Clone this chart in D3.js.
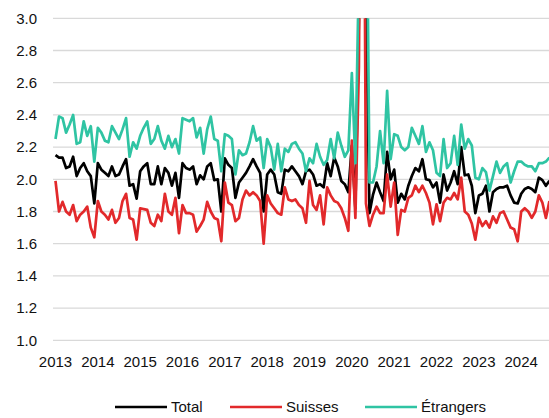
<!DOCTYPE html>
<html lang="fr">
<head>
<meta charset="UTF-8">
<title>Taux mensuel</title>
<script src="https://d3js.org/d3.v7.min.js"></script>
<style>
  body { margin: 0; background: #fff; }
  svg text { font-family: "Liberation Sans", Arial, sans-serif; font-size: 15px; fill: #111; }
</style>
</head>
<body>
<div id="chart"></div>
<script>
// monthly values, Jan 2013 .. Sep 2024
const years = ["2013","2014","2015","2016","2017","2018","2019","2020","2021","2022","2023","2024"];
const yTicks = [1.0, 1.2, 1.4, 1.6, 1.8, 2.0, 2.2, 2.4, 2.6, 2.8, 3.0];

const total = [
  2.15,2.135,2.135,2.07,2.08,2.14,2.02,2.07,2.10,2.05,2.02,1.85,
  2.10,2.06,2.04,2.02,2.08,2.02,2.03,2.08,2.125,1.96,1.97,1.88,
  2.05,2.08,2.10,1.97,1.97,2.08,1.97,2.07,2.04,1.96,2.04,1.885,
  2.10,2.07,2.06,2.08,1.97,2.025,2.00,2.08,2.10,1.995,2.00,1.80,
  2.13,2.09,2.07,1.885,1.98,2.01,2.04,2.08,2.125,2.08,2.04,1.80,
  2.03,2.06,2.03,1.92,1.91,2.06,2.05,2.08,2.05,2.02,1.97,2.05,
  2.06,2.03,1.96,1.97,1.95,2.10,2.02,2.135,2.08,1.99,1.97,1.92,
  2.21,1.82,3.0,5.6,3.1,1.79,1.905,1.98,1.92,1.865,2.17,2.00,
  2.06,1.855,1.91,1.875,1.96,2.02,2.07,2.05,2.125,2.00,1.995,1.95,
  1.98,1.855,2.03,1.93,1.98,2.05,1.97,2.20,2.025,2.03,1.96,1.79,
  1.90,1.91,1.96,1.80,1.92,1.94,1.95,1.95,1.96,1.90,1.855,1.85,
  1.91,1.94,1.95,1.94,1.92,2.01,1.995,1.96,1.99
];

const suisses = [
  1.99,1.80,1.86,1.80,1.78,1.84,1.74,1.78,1.80,1.83,1.70,1.64,
  1.865,1.80,1.78,1.75,1.81,1.73,1.76,1.865,1.91,1.76,1.75,1.625,
  1.82,1.815,1.81,1.73,1.71,1.78,1.74,1.91,1.80,1.78,1.885,1.665,
  1.84,1.79,1.79,1.78,1.675,1.71,1.75,1.86,1.80,1.76,1.75,1.615,
  1.98,1.855,1.84,1.74,1.76,1.875,1.93,1.90,1.92,1.90,1.865,1.60,
  1.90,1.85,1.82,1.79,1.78,1.95,1.875,1.865,1.875,1.84,1.82,1.73,
  1.99,1.84,1.81,1.90,1.72,1.95,1.90,1.865,1.855,1.82,1.76,1.68,
  2.24,1.76,2.7,6.0,1.85,1.71,1.78,1.83,1.79,1.79,2.03,1.83,
  1.98,1.655,1.81,1.80,1.885,1.90,1.96,1.92,1.96,1.915,1.855,1.72,
  1.845,1.74,1.855,1.885,1.875,1.915,1.875,2.01,1.80,1.78,1.725,1.625,
  1.76,1.71,1.74,1.70,1.77,1.73,1.79,1.80,1.75,1.70,1.69,1.615,
  1.80,1.82,1.80,1.76,1.80,1.90,1.855,1.76,1.865
];

const etrangers = [
  2.25,2.39,2.38,2.29,2.34,2.40,2.22,2.23,2.36,2.27,2.33,2.11,
  2.32,2.29,2.24,2.23,2.33,2.29,2.25,2.31,2.38,2.14,2.23,2.19,
  2.27,2.32,2.36,2.22,2.25,2.33,2.24,2.19,2.27,2.20,2.25,2.16,
  2.38,2.37,2.36,2.38,2.26,2.32,2.16,2.31,2.39,2.25,2.24,2.05,
  2.28,2.27,2.25,2.03,2.18,2.15,2.16,2.23,2.33,2.24,2.26,2.07,
  2.25,2.20,2.06,2.22,2.05,2.19,2.17,2.22,2.23,2.19,2.16,2.05,
  2.13,2.10,2.22,2.14,2.09,2.12,2.25,2.13,2.29,2.21,2.14,2.18,
  2.66,2.10,3.3,5.0,4.35,1.98,1.98,2.08,2.30,2.10,2.55,2.125,
  2.28,2.27,2.20,2.18,2.20,2.32,2.27,2.22,2.33,2.17,2.23,2.18,
  2.04,2.02,2.25,2.07,2.10,2.27,2.09,2.34,2.19,2.25,2.21,2.01,
  2.00,2.07,2.045,1.93,2.02,2.11,2.04,2.08,2.10,1.98,2.05,2.11,
  2.11,2.09,2.08,2.08,2.05,2.10,2.10,2.11,2.135
];

const seriesNames = ["Total", "Suisses", "Étrangers"];
const colors = ["#000000", "#e2292b", "#2fc4a3"];

const W = 549, H = 418;
const plot = { left: 53, right: 549, top: 18.3, bottom: 340.3 };

const svg = d3.select("#chart").append("svg")
  .attr("width", W).attr("height", H);

// month index -> x ; first month centred on 2013 label
const x = d3.scaleLinear().domain([0, 132]).range([55.5, 521.2]);
const y = d3.scaleLinear().domain([1, 3]).range([plot.bottom, plot.top]);

// gridlines
svg.append("g").selectAll("line")
  .data(yTicks).join("line")
  .attr("x1", plot.left).attr("x2", plot.right)
  .attr("y1", d => y(d)).attr("y2", d => y(d))
  .attr("stroke", "#d9d9d9").attr("stroke-width", 1.3);

// y labels
svg.append("g").selectAll("text")
  .data(yTicks).join("text")
  .attr("x", 37).attr("y", d => y(d))
  .attr("dy", "0.35em")
  .attr("text-anchor", "end")
  .text(d => d.toFixed(1));

// x labels
svg.append("g").selectAll("text")
  .data(years).join("text")
  .attr("x", (d, i) => x(i * 12))
  .attr("y", 362)
  .attr("dy", "0.35em")
  .attr("text-anchor", "middle")
  .text(d => d);

svg.append("defs").append("clipPath").attr("id", "clip")
  .append("rect")
  .attr("x", plot.left).attr("y", plot.top)
  .attr("width", plot.right - plot.left)
  .attr("height", plot.bottom - plot.top);

const line = d3.line()
  .x((d, i) => x(i))
  .y(d => y(d));

const lines = svg.append("g").attr("clip-path", "url(#clip)");
[total, suisses, etrangers].forEach((s, k) => {
  lines.append("path")
    .datum(s)
    .attr("d", line)
    .attr("fill", "none")
    .attr("stroke", colors[k])
    .attr("stroke-width", 2.7)
    .attr("stroke-linejoin", "round");
});

// legend
const legendX = [115, 230, 365];
const legend = svg.append("g");
seriesNames.forEach((name, k) => {
  legend.append("line")
    .attr("x1", legendX[k]).attr("x2", legendX[k] + 52)
    .attr("y1", 407).attr("y2", 407)
    .attr("stroke", colors[k]).attr("stroke-width", 2.7);
  legend.append("text")
    .attr("x", legendX[k] + 56).attr("y", 407)
    .attr("dy", "0.35em")
    .text(name);
});
</script>
</body>
</html>
